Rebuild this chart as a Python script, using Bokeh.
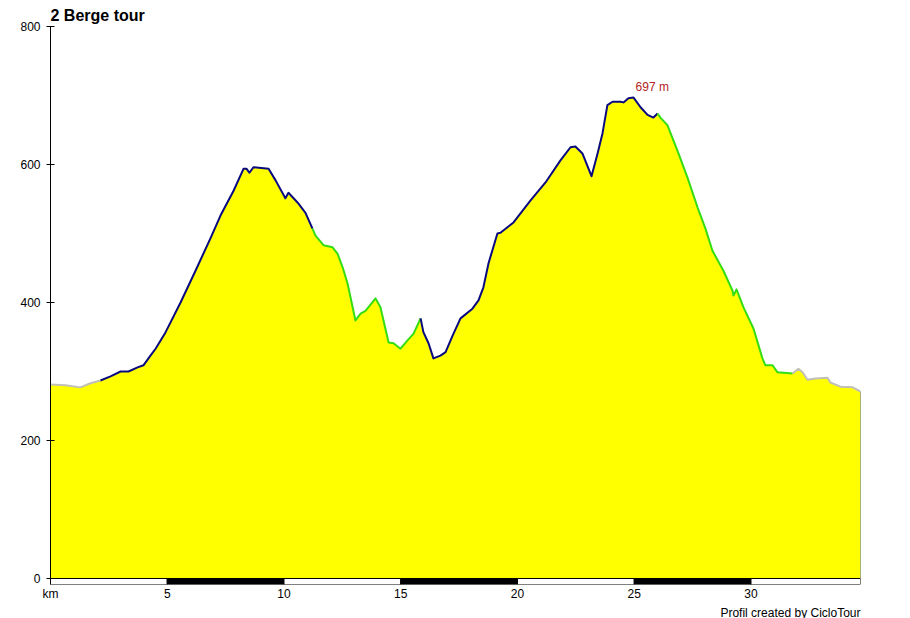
from bokeh.plotting import figure
from bokeh.models import Range1d, FixedTicker, Label, Title
from bokeh.embed import file_html
from bokeh.resources import INLINE

title = "2 Berge tour"
footer = "Profil created by CicloTour"

# distance (km) and elevation (m) read from the profile
dist = [0.00, 0.64, 1.28, 1.71, 2.14, 2.57, 3.00, 3.34, 3.73, 3.98,
        4.28, 4.50, 4.93, 5.57, 6.21, 6.85, 7.28, 7.84, 8.27, 8.39,
        8.52, 8.69, 9.34, 9.64, 10.06, 10.19, 10.58, 10.92, 11.22, 11.35,
        11.69, 12.08, 12.29, 12.51, 12.72, 13.06, 13.28, 13.49, 13.92, 14.13,
        14.48, 14.69, 14.99, 15.29, 15.55, 15.85, 15.97, 16.19, 16.40, 16.70,
        16.92, 17.22, 17.56, 18.07, 18.33, 18.54, 18.76, 19.14, 19.27, 19.83,
        20.56, 21.20, 21.84, 22.27, 22.48, 22.78, 23.17, 23.43, 23.64, 23.85,
        24.07, 24.41, 24.54, 24.75, 24.97, 25.27, 25.57, 25.82, 26.00, 26.12,
        26.42, 26.85, 27.28, 27.71, 28.05, 28.35, 28.82, 29.21, 29.25, 29.38,
        29.68, 30.11, 30.49, 30.62, 30.92, 31.13, 31.78, 32.03, 32.21, 32.42,
        32.76, 33.28, 33.40, 33.83, 34.35, 34.69]
elev = [281, 280, 277, 283, 287, 293, 300, 300, 306, 309,
        323, 333, 357, 400, 446, 493, 526, 562, 594, 594,
        588, 596, 594, 577, 551, 559, 545, 530, 507, 497,
        483, 480, 471, 451, 428, 374, 384, 388, 406, 393,
        342, 341, 333, 345, 355, 377, 357, 341, 319, 323,
        328, 352, 377, 391, 403, 422, 457, 500, 501, 516,
        548, 574, 606, 625, 626, 616, 583, 616, 645, 686,
        691, 691, 690, 696, 697, 683, 672, 668, 674, 668,
        657, 620, 581, 538, 507, 475, 446, 417, 410, 419,
        393, 362, 319, 309, 309, 299, 297, 304, 299, 288,
        290, 291, 284, 278, 277, 271]

# coloured sections of the track line
section_start = [0.00, 2.14, 11.22, 15.85, 26.00, 31.78]
section_kind = ["flat", "climb", "descent", "climb", "descent", "flat"]
kind_color = {"flat": "#c0c0b8", "climb": "#0a0a80", "descent": "#33dd11"}

y_ticks = [0, 200, 400, 600, 800]
x_ticks = [0, 5, 10, 15, 20, 25, 30]
x_tick_labels = {0: "km"}
scale_edges = [0, 5, 10, 15, 20, 25, 30]

FONT = "Liberation Sans"
end_km = dist[-1]

p = figure(frame_width=810, frame_height=558, output_backend="svg",
           toolbar_location=None,
           x_range=Range1d(0, end_km), y_range=Range1d(-8.7, 800),
           min_border_left=50, min_border_right=50, min_border_top=26,
           min_border_bottom=34, background_fill_color="white",
           border_fill_color="white")
p.outline_line_color = None
p.grid.visible = False

# title
p.title.text = title
p.title.align = "left"
p.title.text_font = FONT
p.title.text_font_size = "16px"
p.title.text_font_style = "bold"
p.title.text_color = "black"
p.title.standoff = 6
p.title.offset = 0

# fill
p.varea(x=dist, y1=[0] * len(dist), y2=elev, fill_color="#ffff00")
p.segment(x0=[end_km], y0=[0], x1=[end_km], y1=[elev[-1]],
          line_color="#4a6a20", line_width=1)

# coloured line sections
bounds = section_start + [end_km]
for i, kind in enumerate(section_kind):
    lo, hi = bounds[i], bounds[i + 1]
    xs = [d for d in dist if lo <= d <= hi]
    ys = [e for d, e in zip(dist, elev) if lo <= d <= hi]
    p.line(xs, ys, line_color=kind_color[kind], line_width=2,
           line_join="round")

# km scale bar
edges = scale_edges + [end_km]
lefts = edges[:-1]
rights = edges[1:]
fills = ["white" if i % 2 == 0 else "black" for i in range(len(lefts))]
p.quad(left=lefts, right=rights, bottom=-8.7, top=0, fill_color=fills,
       line_color="black", line_width=1)

# axes
p.yaxis.ticker = FixedTicker(ticks=y_ticks)
p.yaxis.minor_tick_line_color = None
p.yaxis.major_tick_in = 4
p.yaxis.major_tick_out = 4
p.yaxis.axis_line_color = "black"
p.yaxis.major_tick_line_color = "black"
p.yaxis.major_label_text_font = FONT
p.yaxis.major_label_text_font_size = "12px"
p.yaxis.major_label_text_color = "black"
p.yaxis.major_label_standoff = 6

p.xaxis.ticker = FixedTicker(ticks=x_ticks)
p.xaxis.major_label_overrides = x_tick_labels
p.xaxis.minor_tick_line_color = None
p.xaxis.major_tick_line_color = None
p.xaxis.major_tick_in = 0
p.xaxis.major_tick_out = 0
p.xaxis.axis_line_color = None
p.xaxis.major_label_text_font = FONT
p.xaxis.major_label_text_font_size = "12px"
p.xaxis.major_label_text_color = "black"
p.xaxis.major_label_standoff = 2

# footer
p.add_layout(Title(text=footer, align="right", text_font=FONT,
                   text_font_size="12px", text_font_style="normal",
                   text_color="black", standoff=0, offset=0), "below")

# peak label
peak = max(elev)
peak_km = dist[elev.index(peak)]
p.add_layout(Label(x=peak_km, y=peak, text=f"{peak} m", x_offset=2, y_offset=4,
                   text_font=FONT, text_font_size="12px", text_color="#b22222",
                   text_align="left", text_baseline="bottom"))

open("out.html", "w").write(file_html(p, INLINE))
